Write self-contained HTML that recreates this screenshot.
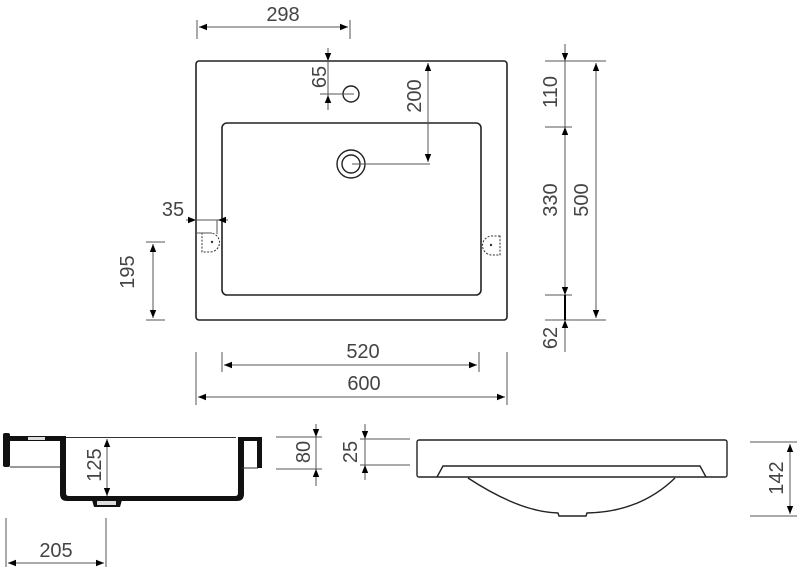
<!DOCTYPE html>
<html><head><meta charset="utf-8"><style>
html,body{margin:0;padding:0;background:#fff;}
svg{display:block;}
text{font-family:"Liberation Sans","DejaVu Sans",sans-serif;font-size:20px;fill:#444;font-weight:300;}
</style></head><body>
<svg width="800" height="569" viewBox="0 0 800 569" xmlns="http://www.w3.org/2000/svg">
<defs>
<marker id="a" viewBox="0 0 10 10" refX="10" refY="5" markerWidth="8" markerHeight="8" orient="auto-start-reverse" markerUnits="userSpaceOnUse"><path d="M0,1 L10,5 L0,9 z" fill="#000"/></marker>
</defs>
<g fill="none" stroke="#222" stroke-width="1.6">
<rect x="196" y="61" width="311" height="259" rx="3"/>
<rect x="222" y="123" width="259" height="172" rx="5"/>
<circle cx="351" cy="94" r="8" stroke-width="1.4"/>
<circle cx="351" cy="164" r="14" stroke-width="1.4"/>
<circle cx="351" cy="164" r="9" stroke-width="1.4"/>
</g>
<g fill="none" stroke="#333" stroke-width="1" stroke-dasharray="2,1.5">
<path d="M202,233 h8 a8,8 0 0 1 0,19 h-8 z"/>
<path d="M500,236 h-8 a8,8 0 0 0 0,19 h8 z"/>
</g>
<circle cx="212" cy="242" r="1.2" fill="#333"/><circle cx="491" cy="245" r="1.2" fill="#333"/>
<g stroke="#555" stroke-width="1" fill="none">
<line x1="197" y1="20" x2="197" y2="39"/><line x1="350" y1="20" x2="350" y2="39"/>
<line x1="199" y1="27" x2="348" y2="27" marker-start="url(#a)" marker-end="url(#a)"/>
<line x1="328" y1="48" x2="328" y2="110"/>
<line x1="320" y1="94" x2="354" y2="94"/>
<line x1="328" y1="48" x2="328" y2="61" marker-end="url(#a)"/>
<line x1="328" y1="108" x2="328" y2="95" marker-end="url(#a)"/>
<line x1="428" y1="63" x2="428" y2="162" marker-start="url(#a)" marker-end="url(#a)"/>
<line x1="352" y1="164" x2="430" y2="164"/>
<line x1="186" y1="220" x2="196" y2="220" marker-end="url(#a)"/>
<line x1="228" y1="220" x2="218" y2="220" marker-end="url(#a)"/>
<line x1="196" y1="220" x2="218" y2="220"/>
<line x1="217" y1="220" x2="217" y2="234"/><line x1="196" y1="233" x2="212" y2="233"/>
<line x1="146" y1="242" x2="165" y2="242"/><line x1="146" y1="320" x2="165" y2="320"/>
<line x1="153" y1="244" x2="153" y2="318" marker-start="url(#a)" marker-end="url(#a)"/>
<line x1="545" y1="61" x2="606" y2="61"/><line x1="545" y1="127" x2="572" y2="127"/>
<line x1="545" y1="295" x2="572" y2="295"/><line x1="545" y1="320" x2="606" y2="320"/>
<line x1="565" y1="44" x2="565" y2="352"/>
<line x1="565" y1="50" x2="565" y2="61" marker-end="url(#a)"/>
<line x1="565" y1="140" x2="565" y2="127" marker-end="url(#a)"/>
<line x1="565" y1="282" x2="565" y2="295" marker-end="url(#a)"/>
<line x1="565" y1="332" x2="565" y2="320" marker-end="url(#a)"/>
<line x1="596" y1="63" x2="596" y2="318" marker-start="url(#a)" marker-end="url(#a)"/>
<line x1="222" y1="352" x2="222" y2="372"/><line x1="479" y1="352" x2="479" y2="372"/>
<line x1="196" y1="352" x2="196" y2="405"/><line x1="507" y1="352" x2="507" y2="405"/>
<line x1="224" y1="365" x2="477" y2="365" marker-start="url(#a)" marker-end="url(#a)"/>
<line x1="198" y1="397" x2="505" y2="397" marker-start="url(#a)" marker-end="url(#a)"/>
<line x1="107" y1="439" x2="107" y2="496" marker-start="url(#a)" marker-end="url(#a)"/>
<line x1="276" y1="437" x2="322" y2="437"/><line x1="276" y1="469" x2="322" y2="469"/>
<line x1="316" y1="424" x2="316" y2="486"/>
<line x1="316" y1="424" x2="316" y2="437" marker-end="url(#a)"/>
<line x1="316" y1="483" x2="316" y2="469" marker-end="url(#a)"/>
<line x1="360" y1="439" x2="410" y2="439"/><line x1="360" y1="465" x2="410" y2="465"/>
<line x1="365" y1="424" x2="365" y2="480"/>
<line x1="365" y1="426" x2="365" y2="439" marker-end="url(#a)"/>
<line x1="365" y1="478" x2="365" y2="465" marker-end="url(#a)"/>
<line x1="6" y1="518" x2="6" y2="567"/><line x1="106" y1="518" x2="106" y2="567"/>
<line x1="8" y1="563" x2="104" y2="563" marker-start="url(#a)" marker-end="url(#a)"/>
<line x1="750" y1="442" x2="797" y2="442"/><line x1="750" y1="516" x2="797" y2="516"/>
<line x1="790" y1="444" x2="790" y2="514" marker-start="url(#a)" marker-end="url(#a)"/>
</g>
<line x1="565" y1="295" x2="565" y2="320" stroke="#000" stroke-width="2"/>
<g fill="#111">
<rect x="4" y="436" width="62" height="5"/>
<rect x="3" y="433" width="7" height="34" rx="2"/>
<path d="M60,437 h6 v56 q0,3 3,3 h166 q3,0 3,-3 v-56 h6 v57 q0,7 -7,7 h-170 q-7,0 -7,-7 z"/>
<rect x="242" y="437" width="20" height="4"/>
<rect x="257" y="437" width="5" height="31"/>
<path d="M92,500 h30 l-2,7 h-26 z"/>
</g>
<rect x="28" y="437" width="17" height="3" fill="#ddd"/>
<rect x="97" y="501" width="19" height="4" fill="#ddd"/>
<g stroke="#333" stroke-width="1" fill="none">
<line x1="10" y1="467" x2="60" y2="467"/>
<line x1="66" y1="437.5" x2="236" y2="437.5"/>
<line x1="242" y1="468" x2="258" y2="468"/>
</g>
<g fill="none" stroke="#222" stroke-width="1.4">
<rect x="417" y="440" width="310" height="37" rx="2"/>
<path d="M437,477 L443,466 H700 L706,477"/>
<path d="M468,478 Q520,512 558,513 L559,516 H586 L587,513 Q640,512 675,478"/>
</g>
<text x="283" y="21" text-anchor="middle">298</text>
<text x="173" y="216" text-anchor="middle">35</text>
<text x="363" y="358" text-anchor="middle">520</text>
<text x="364" y="390" text-anchor="middle">600</text>
<text x="56" y="557" text-anchor="middle">205</text>
<text transform="translate(326,77) rotate(-90)" text-anchor="middle">65</text>
<text transform="translate(421,96) rotate(-90)" text-anchor="middle">200</text>
<text transform="translate(134,272) rotate(-90)" text-anchor="middle">195</text>
<text transform="translate(557,92) rotate(-90)" text-anchor="middle">110</text>
<text transform="translate(557,200) rotate(-90)" text-anchor="middle">330</text>
<text transform="translate(588,200) rotate(-90)" text-anchor="middle">500</text>
<text transform="translate(557,338) rotate(-90)" text-anchor="middle">62</text>
<text transform="translate(101,465) rotate(-90)" text-anchor="middle">125</text>
<text transform="translate(310,452) rotate(-90)" text-anchor="middle">80</text>
<text transform="translate(357,452) rotate(-90)" text-anchor="middle">25</text>
<text transform="translate(783,478) rotate(-90)" text-anchor="middle">142</text>
</svg>
</body></html>
